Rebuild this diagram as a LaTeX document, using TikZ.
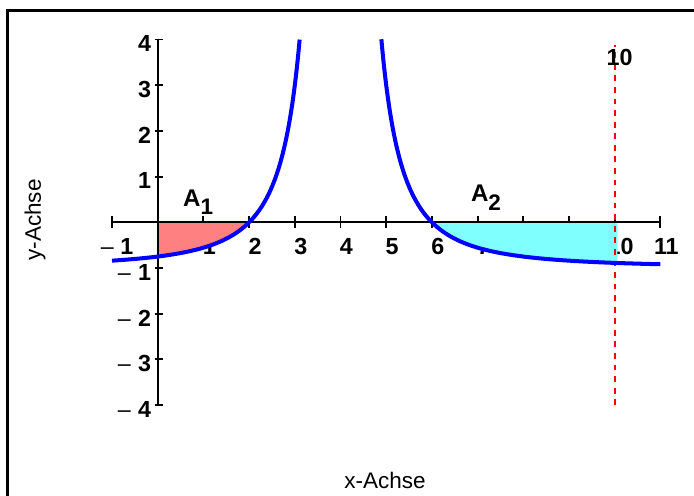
\documentclass[tikz,border=0pt]{standalone}
\usepackage{fontspec}
\setmainfont{Liberation Sans}
\definecolor{afill}{RGB}{255,128,128}
\definecolor{bfill}{RGB}{128,255,255}
\begin{document}
\begin{tikzpicture}[x=1cm,y=1cm,
  lab/.style={font=\bfseries\fontsize{14.5}{16}\selectfont, inner sep=0pt},
  alab/.style={font=\bfseries\fontsize{15}{17}\selectfont, inner sep=0pt, anchor=base west},
  ttl/.style={font=\fontsize{14}{16}\selectfont, inner sep=0pt},
  frame/.style={line width=1.9pt},
  axisline/.style={line width=1.4pt},
  tk/.style={line width=1.2pt},
  curve/.style={blue, line width=2.5pt},
  vline/.style={red, line width=1pt, dash pattern=on 3.6pt off 3.6pt}]
\useasboundingbox (-3.451,-5.989) rectangle (11.735,4.864);
% frame
\draw[frame] (-3.287,-6.3) -- (-3.287,4.635) -- (12,4.635);
% axis titles
\node[ttl] (xt) at (4.974,-5.65) {x-Achse};
\node[ttl, rotate=90] (yt) at (-2.685,0.05) {y-Achse};
% ticks
\foreach \k in {-1,0,...,11} \draw[tk] (\k,-0.13) -- (\k,0.13);
\foreach \k in {-4,-3,-2,-1,1,2,3,4} \draw[tk] (-0.07,\k) -- (0.12,\k);
% x labels
\node[lab, anchor=base] (xlm1) at (-0.89,-0.716) {{\mdseries\textendash}\hspace{4pt}1};
\foreach \k in {1,...,11} \node[lab, anchor=base] (xl\k) at (\k+0.13,-0.716) {\k};
% y labels
\foreach \k in {1,2,3,4} \node[lab, anchor=base east] (yl\k) at (-0.14,\k-0.27) {\k};
\foreach \k in {1,2,3,4} \node[lab, anchor=base east] (ylm\k) at (-0.14,-\k-0.27) {{\mdseries\textendash}\hspace{4.5pt}\k};
% fills
\fill[afill] (0,0) -- plot[domain=0:2, samples=60, smooth] (\x,{4/((\x-4)^2)-1}) -- cycle;
\fill[bfill] (6,0) -- plot[domain=6:10.06, samples=80, smooth] (\x,{4/((\x-4)^2)-1}) -- (10.06,0) -- cycle;
% axes
\draw[axisline] (-1,0) -- (11,0);
\draw[axisline] (0,-4) -- (0,4);
% dashed line at x=10
\draw[vline] (10,-4) -- (10,3.88);
\node[lab, anchor=base] (ten) at (10.105,3.44) {10};
% area labels
\node[alab] (a1) at (0.55,0.335) {A\raisebox{-5pt}{\fontsize{14}{16}\selectfont 1}};
\node[alab] (a2) at (6.849,0.444) {A\raisebox{-5pt}{\fontsize{14}{16}\selectfont 2}};
% curve
\draw[curve] plot[domain=-1:3.106, samples=200, smooth] (\x,{4/((\x-4)^2)-1});
\draw[curve] plot[domain=4.894:11, samples=200, smooth] (\x,{4/((\x-4)^2)-1});
\end{tikzpicture}
\end{document}
